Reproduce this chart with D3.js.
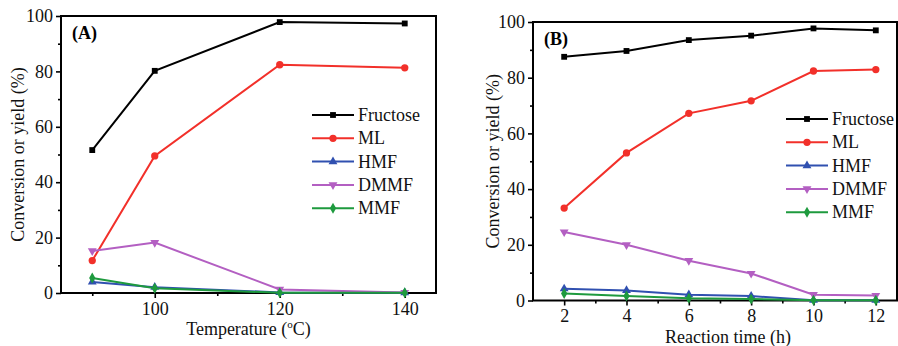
<!DOCTYPE html>
<html>
<head>
<meta charset="utf-8">
<script src="https://cdn.jsdelivr.net/npm/d3@7"></script>
<style>
  body { margin: 0; background: #fff; }
  svg { display: block; font-family: "Liberation Serif", "Times New Roman", serif; }
</style>
</head>
<body>
<svg id="chart" width="898" height="346"></svg>
<script>
// series names + colours (legend order)
const seriesNames = ['Fructose', 'ML', 'HMF', 'DMMF', 'MMF']
const seriesColors = ['#000000', '#f2302a', '#3050b0', '#b35fc2', '#1e9a3e']

// panel A: temperature
const tempX = [90, 100, 120, 140]
const tempFructose = [51.6, 80.2, 97.8, 97.3]
const tempML = [11.7, 49.5, 82.4, 81.3]
const tempHMF = [4.0, 2.1, 0.2, 0.1]
const tempDMMF = [15.2, 18.2, 1.3, 0.2]
const tempMMF = [5.4, 1.7, 0.1, 0.1]

// panel B: reaction time
const timeX = [2, 4, 6, 8, 10, 12]
const timeFructose = [87.5, 89.6, 93.5, 95.1, 97.7, 97.0]
const timeML = [33.2, 53.0, 67.2, 71.7, 82.4, 82.9]
const timeHMF = [4.2, 3.6, 2.1, 1.6, 0.1, 0.1]
const timeDMMF = [24.6, 20.0, 14.3, 9.7, 2.1, 1.8]
const timeMMF = [2.5, 1.6, 0.8, 0.5, 0.1, 0.1]

const yMajor = [0, 20, 40, 60, 80, 100]
const yMinor = [10, 30, 50, 70, 90]

const svg = d3.select('#chart')

//画一个子图
function drawPanel(cfg) {
  let g = svg.append('g')
  let x = d3.scaleLinear().domain(cfg.xDomain).range([cfg.left, cfg.right])
  let y = d3.scaleLinear().domain([0, 100]).range([cfg.bottom, cfg.top])

  //次刻度
  g.append('g')
    .attr('transform', `translate(0, ${cfg.bottom})`)
    .call(d3.axisBottom(x).tickValues(cfg.xMinor).tickSize(3).tickFormat(''))
  g.append('g')
    .attr('transform', `translate(${cfg.left}, 0)`)
    .call(d3.axisLeft(y).tickValues(yMinor).tickSize(3).tickFormat(''))
  //主刻度
  g.append('g')
    .attr('class', 'xax')
    .attr('transform', `translate(0, ${cfg.bottom})`)
    .call(d3.axisBottom(x).tickValues(cfg.xMajor).tickSize(5).tickPadding(4).tickSizeOuter(0))
  g.append('g')
    .attr('transform', `translate(${cfg.left}, 0)`)
    .call(d3.axisLeft(y).tickValues(yMajor).tickSize(5).tickPadding(3).tickSizeOuter(0))
  g.selectAll('.domain').remove()
  g.selectAll('.tick line').attr('stroke', '#000').attr('stroke-width', 1.6)
  g.selectAll('.tick text')
    .attr('font-family', '"Liberation Serif", "Times New Roman", serif')
    .attr('font-size', 18)
    .attr('fill', '#111')

  //边框
  g.append('rect')
    .attr('x', cfg.left).attr('y', cfg.top)
    .attr('width', cfg.right - cfg.left).attr('height', cfg.bottom - cfg.top)
    .attr('fill', 'none').attr('stroke', '#000').attr('stroke-width', 2)

  let line = d3.line().x(d => x(d[0])).y(d => y(d[1]))
  cfg.series.forEach((vals, i) => {
    let pts = cfg.xs.map((v, j) => [v, vals[j]])
    g.append('path')
      .datum(pts)
      .attr('d', line)
      .attr('fill', 'none')
      .attr('stroke', seriesColors[i])
      .attr('stroke-width', 2)
    g.selectAll(null)
      .data(pts)
      .enter()
      .append('path')
      .attr('d', symbolFor(i))
      .attr('transform', d => `translate(${x(d[0])}, ${y(d[1])})` + (i === 3 ? ' rotate(180)' : ''))
      .attr('fill', seriesColors[i])
  })

  //图例
  seriesNames.forEach((name, i) => {
    let ly = cfg.legY + i * 23.3
    g.append('line')
      .attr('x1', cfg.legX).attr('x2', cfg.legX + 42)
      .attr('y1', ly).attr('y2', ly)
      .attr('stroke', seriesColors[i]).attr('stroke-width', 2)
    g.append('path')
      .attr('d', symbolFor(i))
      .attr('transform', `translate(${cfg.legX + 21}, ${ly})` + (i === 3 ? ' rotate(180)' : ''))
      .attr('fill', seriesColors[i])
    g.append('text')
      .attr('x', cfg.legX + 46).attr('y', ly + 6)
      .attr('font-size', 18).attr('fill', '#111')
      .text(name)
  })

  //面板标签
  g.append('text')
    .attr('x', cfg.left + 11).attr('y', cfg.top + 23)
    .attr('font-size', 18).attr('font-weight', 'bold')
    .text(cfg.tag)

  //坐标轴标题
  g.append('text')
    .attr('transform', `translate(${cfg.yTitleX}, ${(cfg.top + cfg.bottom) / 2}) rotate(-90)`)
    .attr('text-anchor', 'middle')
    .attr('font-size', 18).attr('fill', '#111')
    .text('Conversion or yield (%)')
  let xt = g.append('text')
    .attr('x', (cfg.left + cfg.right) / 2 + cfg.xTitleDx)
    .attr('y', cfg.bottom + 42)
    .attr('text-anchor', 'middle')
    .attr('font-size', 18).attr('fill', '#111')
  cfg.xTitle(xt)
}

function symbolFor(i) {
  let types = [d3.symbolSquare, d3.symbolCircle, d3.symbolTriangle, d3.symbolTriangle, d3.symbolDiamond]
  let sizes = [34, 42, 34, 34, 34]
  return d3.symbol().type(types[i]).size(sizes[i])()
}

drawPanel({
  tag: '(A)',
  left: 61, right: 436, top: 16, bottom: 293,
  xDomain: [85, 145],
  xMajor: [100, 120, 140],
  xMinor: [90, 110, 130],
  xs: tempX,
  series: [tempFructose, tempML, tempHMF, tempDMMF, tempMMF],
  legX: 312, legY: 115,
  yTitleX: 24,
  xTitleDx: 0,
  xTitle: t => {
    t.append('tspan').text('Temperature (')
    t.append('tspan').attr('font-size', 11).attr('dy', -7).text('o')
    t.append('tspan').attr('dy', 7).text('C)')
  }
})

drawPanel({
  tag: '(B)',
  left: 533, right: 897, top: 22, bottom: 300.5,
  xDomain: [1, 12.68],
  xMajor: [2, 4, 6, 8, 10, 12],
  xMinor: [3, 5, 7, 9, 11],
  xs: timeX,
  series: [timeFructose, timeML, timeHMF, timeDMMF, timeMMF],
  legX: 786, legY: 119,
  yTitleX: 499,
  xTitleDx: 13,
  xTitle: t => t.text('Reaction time (h)')
})
</script>
</body>
</html>
